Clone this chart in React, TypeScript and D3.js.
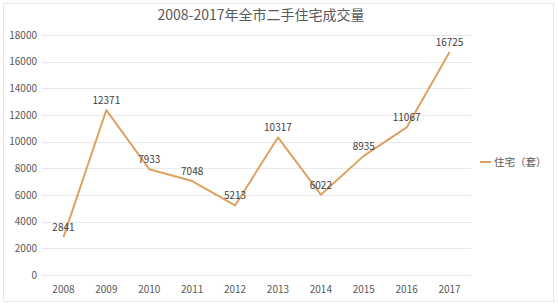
import React from "react";
import * as d3 from "d3";

const years = ["2008","2009","2010","2011","2012","2013","2014","2015","2016","2017"];
const values = [2841, 12371, 7933, 7048, 5213, 10317, 6022, 8935, 11067, 16725];
const yTicks = [0, 2000, 4000, 6000, 8000, 10000, 12000, 14000, 16000, 18000];
const title = "2008-2017年全市二手住宅成交量";
const seriesName = "住宅（套）";

export default function App() {
  const W = 558, H = 305;
  const x = d3.scaleBand<string>().domain(years).range([42, 471]);
  const y = d3.scaleLinear().domain([0, 18000]).range([275, 35]);
  const color = "#DDA262";
  const font = "'Noto Sans CJK SC', 'Noto Sans', sans-serif";
  const line = d3.line<number>()
    .x((_, i) => (x(years[i]) as number) + x.bandwidth() / 2)
    .y((d) => y(d));
  return (
    <svg width={W} height={H} style={{ position: "fixed", left: 0, top: 0, background: "#fff" }} fontFamily={font}>
      <rect x={3.5} y={3.5} width={550} height={298} fill="#fff" stroke="#e6e6e6" strokeWidth={1} />
      <text x={261} y={20} textAnchor="middle" fontSize={14} fill="#595959">{title}</text>
      {yTicks.map((t) => (
        <g key={t}>
          <line x1={42} x2={471} y1={Math.round(y(t)) + 0.5} y2={Math.round(y(t)) + 0.5} stroke="#e8e8e8" strokeWidth={1} />
          <text x={37} y={y(t) + 3.5} textAnchor="end" fontSize={10} fill="#595959">{t}</text>
        </g>
      ))}
      {years.map((yr) => (
        <text key={yr} x={(x(yr) as number) + x.bandwidth() / 2} y={293} textAnchor="middle" fontSize={10} fill="#595959">{yr}</text>
      ))}
      <path d={line(values) || ""} fill="none" stroke={color} strokeWidth={2} strokeLinejoin="round" />
      {values.map((v, i) => (
        <text key={i} x={(x(years[i]) as number) + x.bandwidth() / 2} y={y(v) - 6} textAnchor="middle" fontSize={10} fill="#404040">{v}</text>
      ))}
      <line x1={480} x2={491} y1={162} y2={162} stroke={color} strokeWidth={2} />
      <text x={494} y={166} fontSize={10.5} fill="#595959">{seriesName}</text>
    </svg>
  );
}
